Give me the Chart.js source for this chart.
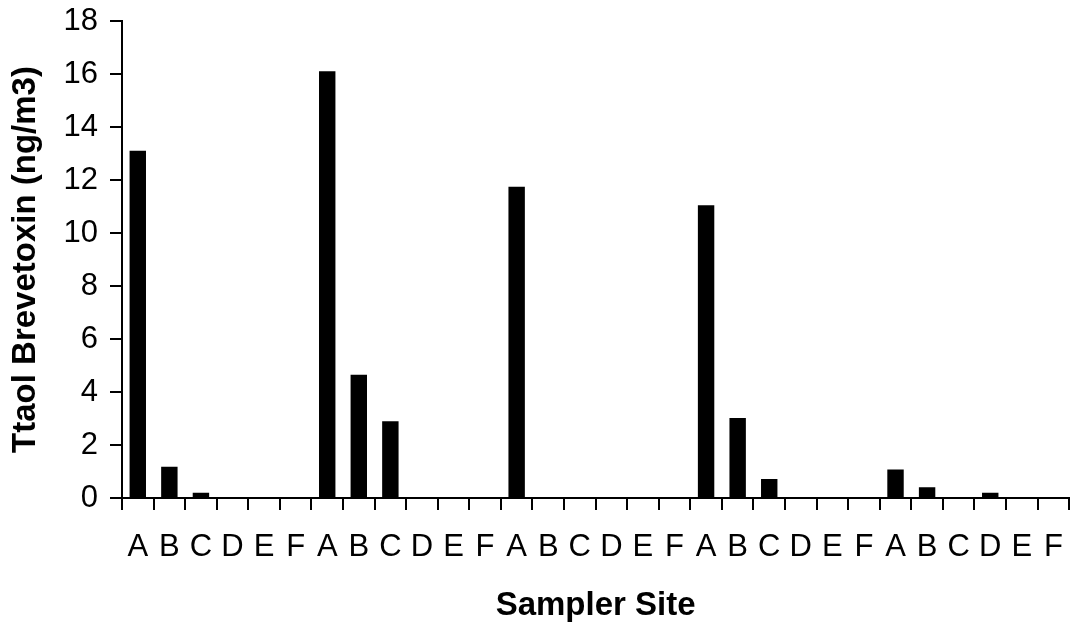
<!DOCTYPE html>
<html>
<head>
<meta charset="utf-8">
<script src="https://cdn.jsdelivr.net/npm/chart.js@4"></script>
<style>
  body { margin: 0; background: #fff; }
  #wrap { width: 1082px; height: 630px; }
</style>
</head>
<body>
<div id="wrap"><canvas id="chart"></canvas></div>
<script>
// sampler sites, repeated for each of the five sampling runs
const sites = ['A', 'B', 'C', 'D', 'E', 'F'];
const run1 = [13.1, 1.18, 0.2, 0, 0, 0];
const run2 = [16.1, 4.65, 2.9, 0, 0, 0];
const run3 = [11.75, 0, 0, 0, 0, 0];
const run4 = [11.05, 3.02, 0.72, 0, 0, 0];
const run5 = [1.08, 0.41, 0, 0.2, 0, 0];
const yTicks = [0, 2, 4, 6, 8, 10, 12, 14, 16, 18];

const labels = [].concat(sites, sites, sites, sites, sites);
const values = [].concat(run1, run2, run3, run4, run5);

new Chart(document.getElementById('chart'), {
    type: 'bar',
    data: {
        labels: labels,
        datasets: [{
            data: values,
            backgroundColor: '#000',
            borderWidth: 0,
            barPercentage: 0.52,
            categoryPercentage: 1
        }]
    },
    options: {
        responsive: true,
        maintainAspectRatio: false,
        animation: false,
        layout: { padding: { top: 21, right: 9, bottom: 0, left: 0 } },
        plugins: {
            legend: { display: false },
            tooltip: { enabled: false }
        },
        scales: {
            x: {
                afterFit: (s) => { s.height = 132; },
                grid: {
                    drawOnChartArea: false,
                    drawTicks: true,
                    tickLength: 12,
                    color: '#000',
                    lineWidth: 2
                },
                border: { color: '#000', width: 2 },
                ticks: {
                    color: '#000',
                    padding: 19,
                    maxRotation: 0,
                    autoSkip: false,
                    font: { family: 'Liberation Sans', size: 31 }
                },
                title: {
                    display: true,
                    text: 'Sampler Site',
                    color: '#000',
                    padding: { top: 0, bottom: 4 },
                    font: { family: 'Liberation Sans', size: 33, weight: 'bold' }
                }
            },
            y: {
                min: 0,
                max: 18,
                afterFit: (s) => {
                    s.width = 122;
                    s.paddingTop = 0;
                    s.paddingBottom = 0;
                },
                afterBuildTicks: (s) => { s.ticks = yTicks.map(v => ({ value: v })); },
                grid: {
                    drawOnChartArea: false,
                    drawTicks: true,
                    tickLength: 12,
                    color: '#000',
                    lineWidth: 2
                },
                border: { color: '#000', width: 2 },
                ticks: {
                    color: '#000',
                    padding: 12,
                    font: { family: 'Liberation Sans', size: 31 }
                },
                title: {
                    display: true,
                    text: 'Ttaol Brevetoxin (ng/m3)',
                    color: '#000',
                    padding: { top: 6, bottom: 0 },
                    font: { family: 'Liberation Sans', size: 33, weight: 'bold' }
                }
            }
        }
    }
});
</script>
</body>
</html>
